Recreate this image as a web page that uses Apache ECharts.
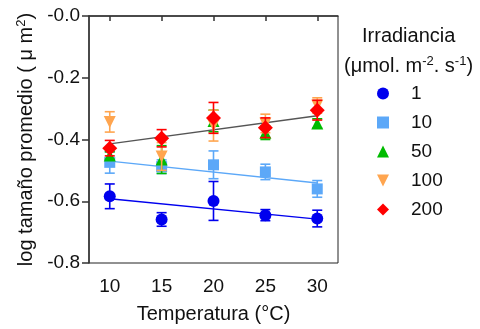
<!DOCTYPE html>
<html>
<head>
<meta charset="utf-8">
<script src="https://cdn.jsdelivr.net/npm/echarts@6/dist/echarts.min.js"></script>
<style>html,body{margin:0;padding:0;background:#fff}#c{width:480px;height:329px}</style>
</head>
<body>
<div id="c"></div>
<script>
const temps = [10, 15, 20, 25, 30];
const xTicks = [10, 15, 20, 25, 30];
const yTicks = [-0.8, -0.6, -0.4, -0.2, 0];

const irr1 = [-0.584, -0.659, -0.599, -0.645, -0.656];
const err1 = [0.040, 0.022, 0.063, 0.018, 0.027];
const irr10 = [-0.474, -0.488, -0.482, -0.505, -0.560];
const err10 = [0.035, 0.022, 0.045, 0.025, 0.027];
const irr50 = [-0.452, -0.465, -0.340, -0.378, -0.348];
const err50 = [0.012, 0.045, 0.035, 0.022, 0.015];
const irr100 = [-0.343, -0.455, -0.355, -0.348, -0.290];
const err100 = [0.033, 0.045, 0.050, 0.030, 0.025];
const irr200 = [-0.428, -0.396, -0.330, -0.362, -0.305];
const err200 = [0.025, 0.028, 0.050, 0.032, 0.032];

const fitX = [10, 30];
const fit1 = [-0.592, -0.658];
const fit10 = [-0.470, -0.541];
const fit200 = [-0.414, -0.323];

const legendNames = ['1', '10', '50', '100', '200'];
const colors = ['#0000ee', '#5ca8f8', '#00bb00', '#ffa54f', '#ff0000'];
const symbols = ['circle', 'rect', 'triangle', 'path://M0,0 L10,0 L5,10 Z', 'diamond'];
const sizes = [12, 11, 12, 12, 15];
const means = [irr1, irr10, irr50, irr100, irr200];
const errs = [err1, err10, err50, err100, err200];

const FONT = 'Liberation Sans, Arial, sans-serif';

function errSeries(i) {
  return {
    type: 'custom',
    name: 'err' + i,
    data: temps.map((t, k) => [t, means[i][k] - errs[i][k], means[i][k] + errs[i][k]]),
    z: 2 + i * 2,
    silent: true,
    renderItem: function (params, api) {
      const lo = api.coord([api.value(0), api.value(1)]);
      const hi = api.coord([api.value(0), api.value(2)]);
      const hw = 5;
      const st = { stroke: colors[i], lineWidth: 1.6 };
      return {
        type: 'group',
        children: [
          { type: 'line', shape: { x1: lo[0], y1: lo[1], x2: hi[0], y2: hi[1] }, style: st },
          { type: 'line', shape: { x1: lo[0] - hw, y1: lo[1], x2: lo[0] + hw, y2: lo[1] }, style: st },
          { type: 'line', shape: { x1: hi[0] - hw, y1: hi[1], x2: hi[0] + hw, y2: hi[1] }, style: st }
        ]
      };
    }
  };
}

function fitSeries(name, vals, color) {
  return {
    type: 'line', name: name, data: fitX.map((x, k) => [x, vals[k]]),
    symbol: 'none', lineStyle: { color: color, width: 1.4 }, z: 1, silent: true
  };
}

const series = [
  fitSeries('fit1', fit1, '#0000ee'),
  fitSeries('fit10', fit10, '#5ca8f8'),
  fitSeries('fit200', fit200, '#555555')
];
for (let i = 0; i < 5; i++) {
  series.push(errSeries(i));
  series.push({
    type: 'scatter', name: legendNames[i],
    data: temps.map((t, k) => [t, means[i][k]]),
    symbol: symbols[i], symbolSize: sizes[i],
    itemStyle: { color: colors[i], opacity: 1 },
    z: 3 + i * 2
  });
}

const chart = echarts.init(document.getElementById('c'), null, { renderer: 'canvas' });
chart.setOption({
  animation: false,
  backgroundColor: '#fff',
  textStyle: { fontFamily: FONT },
  grid: { left: 89, top: 16, right: 142, bottom: 62, show: true, borderColor: '#222', borderWidth: 1, backgroundColor: 'transparent' },
  xAxis: {
    type: 'value', min: 8, max: 32,
    name: 'Temperatura (°C)', nameLocation: 'middle', nameGap: 41,
    nameTextStyle: { fontSize: 20, color: '#111', fontFamily: FONT },
    axisLine: { show: true, lineStyle: { color: '#333', width: 1.5 } },
    axisTick: { show: true, length: 5, lineStyle: { color: '#333', width: 1.5 }, customValues: xTicks },
    axisLabel: { customValues: xTicks, fontSize: 19, color: '#111', margin: 14, fontFamily: FONT },
    splitLine: { show: false }
  },
  yAxis: {
    type: 'value', min: -0.8, max: 0, interval: 0.2,
    name: 'log tamaño promedio ( μ m{sup|2})', nameLocation: 'middle', nameGap: 45,
    nameTextStyle: { fontSize: 20, color: '#111', fontFamily: FONT,
      rich: { sup: { fontSize: 13, verticalAlign: 'bottom', padding: [0, 0, 9, 0], fontFamily: FONT, color: '#111' } } },
    axisLine: { show: true, lineStyle: { color: '#333', width: 1.5 } },
    axisTick: { show: true, length: 7, lineStyle: { color: '#333', width: 1.5 } },
    axisLabel: { fontSize: 19, color: '#111', margin: 9, fontFamily: FONT,
      formatter: v => (Math.abs(v) < 1e-9 ? '-0.0' : v.toFixed(1)) },
    splitLine: { show: false }
  },
  legend: {
    data: legendNames, orient: 'vertical', left: 372, top: 79,
    itemWidth: 12, itemHeight: 12, itemGap: 10,
    textStyle: { fontSize: 19, color: '#111', fontFamily: FONT, padding: [0, 0, 0, 17], lineHeight: 19 },
    selectedMode: false
  },
  graphic: [
    { type: 'text', left: 362, top: 26, style: { text: 'Irradiancia', fontSize: 20, fill: '#111', fontFamily: FONT } },
    { type: 'text', left: 344, top: 55, style: {
      text: '(μmol. m{sup|-2}. s{sup|-1})', fontSize: 20, fill: '#111', fontFamily: FONT,
      rich: { sup: { fontSize: 13, verticalAlign: 'bottom', padding: [0, 0, 9, 0], fontFamily: FONT, fill: '#111' } } } }
  ],
  series: series
});
</script>
</body>
</html>
